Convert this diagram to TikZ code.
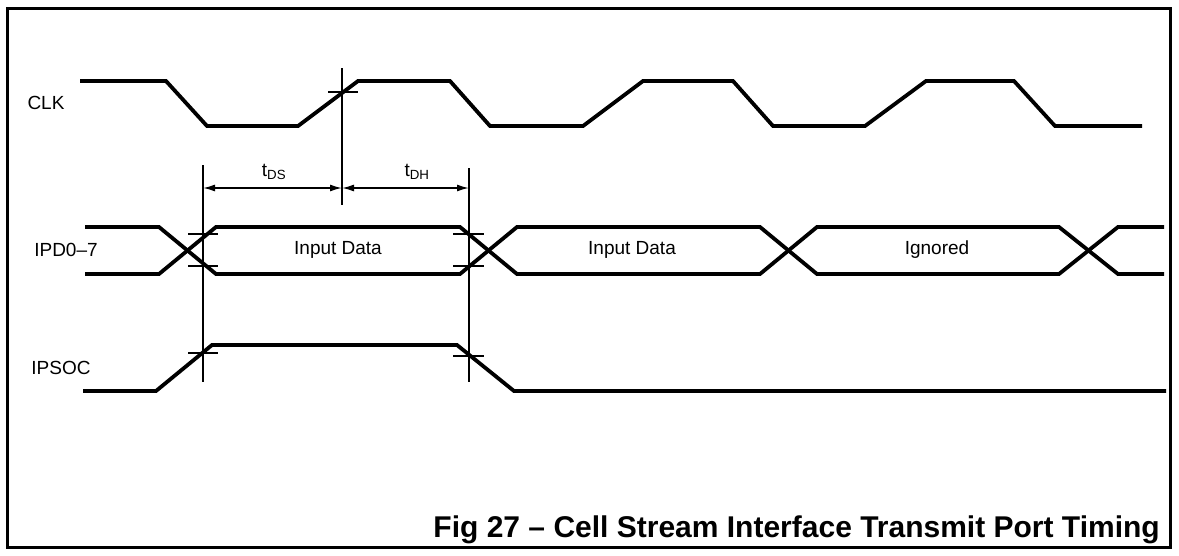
\documentclass[tikz,border=0pt]{standalone}
\usepackage{fontspec}
\setmainfont{Liberation Sans}
\usetikzlibrary{arrows.meta}

\begin{document}
\begin{tikzpicture}[x=1pt,y=-1pt,
    wave/.style={line width=3.8pt},
    guide/.style={line width=1.5pt},
    tick/.style={line width=1.7pt},
    sig/.style={font=\fontsize{19}{21}\selectfont,inner sep=0pt},
    busdata/.style={font=\fontsize{19}{21}\selectfont,inner sep=0pt},
    dim/.style={line width=1.5pt,{Latex[length=12pt,width=7pt]}-{Latex[length=12pt,width=7pt]}}]
  \useasboundingbox (0,0) rectangle (1179,555);
  \draw[line width=3pt] (7,8) rectangle (1170,547);
  % signal names
  \draw
    (46,103) node[sig] (clk){CLK}
    (66,250) node[sig] (ipd){IPD0--7}
    (61,368) node[sig] (ipsoc){IPSOC};
  % CLK
  \draw[wave] (80,81) -- (166,81) -- (207,126) -- (298,126) -- (358,81)
    -- (450,81) -- (490,126) -- (583,126) -- (643,81) -- (733,81)
    -- (773,126) -- (865,126) -- (926,81) -- (1014,81) -- (1055,126) -- (1142,126);
  % IPD0-7 bus
  \draw[wave] (85,227) -- (159,227) -- (216,274) -- (460,274) -- (517,227)
    -- (760,227) -- (817,274) -- (1059,274) -- (1118,227) -- (1164,227);
  \draw[wave] (85,274) -- (159,274) -- (216,227) -- (460,227) -- (517,274)
    -- (760,274) -- (817,227) -- (1059,227) -- (1118,274) -- (1164,274);
  \draw
    (338,250) node[busdata] (d1){Input Data}
    (632,250) node[busdata] (d2){Input Data}
    (937,250) node[busdata] (ign){Ignored};
  % IPSOC
  \draw[wave] (83,391) -- (156,391) -- (212,345) -- (457,345) -- (514,391) -- (1166,391);
  % reference lines
  \coordinate (clkedge) at (342,92);
  \coordinate (setup) at (203,188);
  \coordinate (edge) at (342,188);
  \coordinate (hold) at (469,188);
  \begin{scope}[guide]
    \draw (342,68) -- (342,205);
    \draw (203,165) -- (203,382);
    \draw (469,168) -- (469,382);
  \end{scope}
  \begin{scope}[tick]
    \draw ([xshift=-14pt]clkedge) -- ([xshift=16pt]clkedge);
    \draw (188,234) -- (218,234);
    \draw (188,266) -- (218,266);
    \draw (453,234) -- (484,234);
    \draw (453,266) -- (484,266);
    \draw (188,353) -- (218,353);
    \draw (453,356) -- (484,356);
  \end{scope}
  % timing
  \draw[dim] (setup) -- (edge);
  \draw[dim] (edge) -- (hold);
  \draw
    (274,172) node[sig] (tds){t\textsubscript{DS}}
    (417,172) node[sig] (tdh){t\textsubscript{DH}};
  \node[font=\bfseries\fontsize{30}{33}\selectfont,inner sep=0pt,anchor=base east]
    (title) at (1160,537) {Fig 27 -- Cell Stream Interface Transmit Port Timing};
\end{tikzpicture}
\end{document}
